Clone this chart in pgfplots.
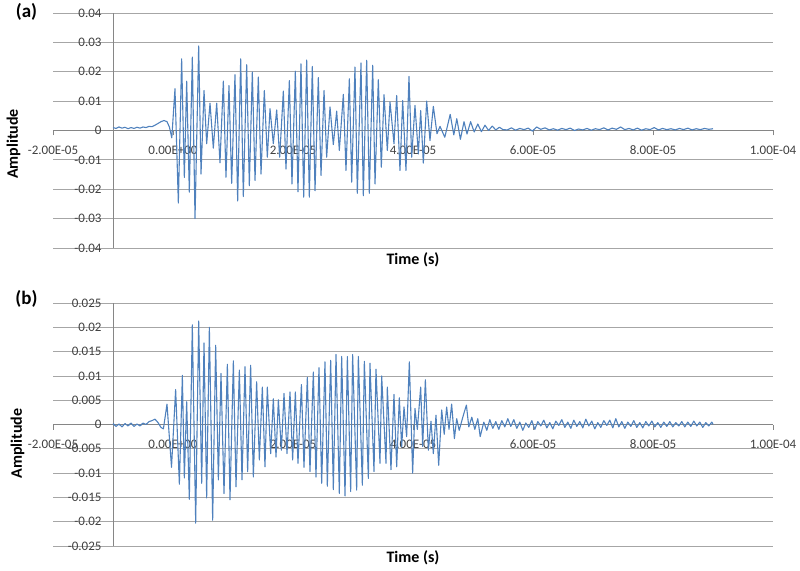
\documentclass[border=0pt]{standalone}
\usepackage{fontspec}
\setmainfont{Carlito}
\usepackage{pgfplots}
\pgfplotsset{compat=1.18}

\definecolor{sig}{HTML}{4F81BD}
\definecolor{gridc}{HTML}{A6A6A6}
\definecolor{axisc}{HTML}{868686}
\definecolor{labc}{HTML}{404040}

% x values in microseconds, labels written as in the original (seconds)
\pgfplotsset{excel/.style={
    scale only axis, width=720pt,
    xmin=-20, xmax=100,
    axis x line*=middle, axis y line*=left,
    hide obscured x ticks=false,
    y axis line style={draw=none},
    x axis line style={axisc, line width=0.75pt},
    xtick={-20,0,20,40,60,80,100},
    xticklabels={-2.00E-05,0.00E+00,2.00E-05,4.00E-05,6.00E-05,8.00E-05,1.00E-04},
    scaled y ticks=false,
    tick align=outside, major tick length=5pt,
    xtick style={axisc, line width=0.75pt},
    ytick style={draw=none},
    ymajorgrids, major grid style={gridc, line width=0.75pt},
    extra x ticks={-10}, extra x tick labels={},
    extra x tick style={grid=major, major grid style={axisc, line width=0.75pt}, major tick length=0pt},
    ticklabel style={font=\fontsize{13}{15}\selectfont, text=labc},
    xticklabel style={yshift=-7pt},
    yticklabel style={anchor=east, xshift=57pt},
    label style={font=\bfseries\fontsize{16}{19}\selectfont},
    xlabel={Time (s)},
    xlabel style={at={(axis description cs:0.5,0)}, anchor=center, yshift=-12pt},
    ylabel={Amplitude},
    cycle list={{sig, no markers}},
    every axis plot/.append style={line width=1.1pt, line join=round},
}}

\begin{document}
\begin{tikzpicture}
\path[use as bounding box] (0,0) rectangle (800pt,570pt);

\node[font=\bfseries\fontsize{19}{22}\selectfont] at (26.5pt,558pt) {(a)};
\node[font=\bfseries\fontsize{19}{22}\selectfont] at (26.5pt,271.5pt) {(b)};

% (a)
\begin{axis}[excel,
    at={(53pt,322pt)}, anchor=south west, height=235pt,
    ymin=-0.04, ymax=0.04,
    ytick={-0.04,-0.03,-0.02,-0.01,0,0.01,0.02,0.03,0.04},
    yticklabels={-0.04,-0.03,-0.02,-0.01,0,0.01,0.02,0.03,0.04},
    ylabel style={at={(axis description cs:-0.0549,0.4426)}, anchor=center},
]
\addplot coordinates {
(-10.0,0.0010) (-9.5,0.0007) (-9.0,0.0012) (-8.5,0.0008) (-8.0,0.0011) (-7.5,0.0006)
(-7.0,0.0010) (-6.5,0.0007) (-6.0,0.0011) (-5.5,0.0008) (-5.0,0.0012) (-4.5,0.0010)
(-4.0,0.0014) (-3.5,0.0013) (-3.0,0.0018) (-2.5,0.0024) (-2.0,0.0030) (-1.5,0.0034)
(-1.0,0.0030) (-0.6,0.0012) (-0.2,-0.0025)
(0.33,0.0142) (0.89,-0.0247) (1.44,0.0244) (1.89,-0.0160) (2.28,0.0168) (2.72,-0.0210)
(3.22,0.0250) (3.67,-0.0300) (4.28,0.0288) (4.67,-0.0148) (5.17,0.0136) (5.61,-0.0045)
(6.17,0.0093) (6.72,-0.0060) (7.28,0.0093) (7.83,-0.0110) (8.39,0.0168) (8.83,-0.0159)
(9.33,0.0153) (9.78,-0.0180) (10.33,0.0190) (10.78,-0.0240) (11.28,0.0244) (11.72,-0.0225)
(12.28,0.0224) (12.72,-0.0188) (13.22,0.0199) (13.67,-0.0170) (14.22,0.0182) (14.67,-0.0148)
(15.22,0.0136) (15.72,-0.0091) (16.17,0.0074) (16.72,-0.0045) (17.28,0.0070) (17.78,-0.0091)
(18.39,0.0134) (18.83,-0.0131) (19.39,0.0170) (19.83,-0.0182) (20.39,0.0202) (20.83,-0.0209)
(21.33,0.0227) (21.78,-0.0227) (22.28,0.0240) (22.72,-0.0227) (23.22,0.0218) (23.67,-0.0205)
(24.22,0.0180) (24.67,-0.0153) (25.17,0.0136) (25.61,-0.0091) (26.17,0.0080) (26.72,-0.0048)
(27.28,0.0066) (27.72,-0.0068) (28.39,0.0123) (28.83,-0.0136) (29.39,0.0176) (29.78,-0.0176)
(30.33,0.0216) (30.72,-0.0214) (31.33,0.0230) (31.72,-0.0222) (32.28,0.0239) (32.72,-0.0214)
(33.28,0.0222) (33.67,-0.0182) (34.22,0.0173) (34.72,-0.0125) (35.17,0.0122) (35.72,-0.0068)
(36.17,0.0097) (36.83,-0.0045) (37.28,0.0119) (37.83,-0.0136) (38.28,0.0102) (38.83,-0.0136)
(39.33,0.0184) (39.78,-0.0091) (40.33,0.0085) (40.89,-0.0080) (41.28,0.0068) (41.72,-0.0111)
(42.28,0.0100) (42.83,-0.0034) (43.39,0.0082) (44.0,-0.0011) (44.5,0.0014) (45.3,-0.0023)
(46.2,0.0055) (46.8,-0.0015) (47.3,0.0040) (47.9,-0.0030) (48.5,0.0030) (49.0,-0.0012)
(49.6,0.0030) (50.2,-0.0005) (50.8,0.0022) (51.4,-0.0004) (52.0,0.0018) (52.6,0.0000)
(53.2,0.0015) (53.8,0.0002) (54.4,0.0011) (55.0,0.0003)
(55.7,0.0002) (56.4,0.0009) (57.1,0.0001) (57.8,0.0007) (58.5,0.0003) (59.2,0.0008)
(59.9,-0.0002) (60.6,0.0012) (61.3,0.0004) (62.0,0.0009) (62.7,0.0002) (63.4,0.0006)
(64.1,0.0001) (64.8,0.0007) (65.5,0.0003) (66.2,0.0008) (66.9,0.0000) (67.6,0.0005)
(68.3,0.0002) (69.0,0.0007) (69.7,0.0001) (70.4,0.0006) (71.1,0.0003) (71.8,0.0009)
(72.5,0.0002) (73.2,0.0008) (73.9,0.0004) (74.6,0.0012) (75.3,0.0003) (76.0,0.0007)
(76.7,0.0002) (77.4,0.0008) (78.1,0.0001) (78.8,0.0006) (79.5,0.0003) (80.2,0.0010)
(80.9,0.0002) (81.6,0.0007) (82.3,0.0003) (83.0,0.0006) (83.7,0.0002) (84.4,0.0007)
(85.1,0.0003) (85.8,0.0008) (86.5,0.0002) (87.2,0.0006) (87.9,0.0003) (88.6,0.0007)
(89.3,0.0004) (90.0,0.0006)
};
\end{axis}

% (b)
\begin{axis}[excel,
    at={(53pt,24pt)}, anchor=south west, height=243pt,
    ymin=-0.025, ymax=0.025,
    ytick={-0.025,-0.02,-0.015,-0.01,-0.005,0,0.005,0.01,0.015,0.02,0.025},
    yticklabels={-0.025,-0.02,-0.015,-0.01,-0.005,0,0.005,0.01,0.015,0.02,0.025},
    ylabel style={at={(axis description cs:-0.0493,0.4218)}, anchor=center},
]
\addplot coordinates {
(-10.0,0.0002) (-9.5,-0.0004) (-9.0,0.0001) (-8.5,-0.0005) (-8.0,0.0002) (-7.5,-0.0003)
(-7.0,0.0003) (-6.5,-0.0004) (-6.0,0.0001) (-5.5,-0.0003) (-5.0,0.0003) (-4.5,0.0000)
(-4.0,0.0006) (-3.5,0.0008) (-3.0,0.0011) (-2.5,0.0004) (-2.0,-0.0006) (-1.6,-0.0009)
(-1.0,0.0042) (-0.25,-0.0088)
(0.44,0.0072) (1.06,-0.0123) (1.56,0.0101) (1.89,-0.0110) (2.28,0.0047) (2.72,-0.0154)
(3.22,0.0205) (3.78,-0.0203) (4.28,0.0213) (4.78,-0.0121) (5.17,0.0168) (5.61,-0.0151)
(6.06,0.0200) (6.61,-0.0197) (7.11,0.0163) (7.56,-0.0114) (8.0,0.0105) (8.5,-0.0142)
(9.06,0.0124) (9.5,-0.0155) (10.06,0.0131) (10.5,-0.0128) (11.06,0.0112) (11.5,-0.0114)
(12.0,0.0119) (12.44,-0.0097) (12.94,0.0122) (13.39,-0.0108) (13.94,0.0088) (14.39,-0.0073)
(14.89,0.0077) (15.33,-0.0087) (15.72,0.0077) (16.28,-0.0060) (16.72,0.0053) (17.17,-0.0067)
(17.56,0.0051) (18.06,-0.0053) (18.5,0.0064) (19.0,-0.0060) (19.5,0.0067) (19.94,-0.0073)
(20.39,0.0067) (20.83,-0.0080) (21.40,0.0082) (21.83,-0.0088) (22.39,0.0097) (22.83,-0.0097)
(23.39,0.0108) (23.83,-0.0108) (24.33,0.0117) (24.78,-0.0121) (25.33,0.0129) (25.72,-0.0127)
(26.28,0.0132) (26.72,-0.0134) (27.17,0.0144) (27.72,-0.0142) (28.11,0.0140) (28.67,-0.0147)
(29.06,0.0140) (29.61,-0.0138) (29.94,0.0144) (30.61,-0.0135) (30.89,0.0140) (31.56,-0.0125)
(31.89,0.0130) (32.56,-0.0111) (32.83,0.0126) (33.5,-0.0097) (33.83,0.0114) (34.5,-0.0080)
(34.78,0.0100) (35.5,-0.0080) (35.72,0.0077) (36.33,-0.0093) (36.83,0.0062) (37.28,-0.0087)
(37.72,0.0055) (38.11,-0.0046) (38.5,0.0036) (38.94,-0.0025) (39.39,0.0129) (39.94,-0.0100)
(40.33,0.0033) (40.72,-0.0010) (41.28,0.0077) (41.61,-0.0045) (42.06,0.0092) (42.56,-0.0053)
(43.0,0.0007) (43.39,-0.0060) (43.83,0.0019) (44.28,-0.0084) (44.78,0.0030) (45.2,-0.0020)
(45.61,0.0036) (46.0,-0.0010) (46.44,0.0042) (46.9,-0.0029) (47.28,0.0012) (47.7,-0.0012)
(48.39,0.0019) (48.9,0.0040) (49.3,-0.0005) (49.8,0.0015) (50.3,-0.0010) (50.8,0.0012)
(51.2,-0.0025) (51.8,0.0005) (52.3,-0.0012) (52.8,0.0010) (53.3,-0.0008) (53.8,0.0006)
(54.3,-0.0010) (54.8,0.0008) (55.3,-0.0005) (55.8,0.0012)
(56.3,-0.0004) (56.8,0.0010) (57.3,-0.0008) (57.8,0.0005) (58.3,-0.0012) (58.8,0.0003)
(59.3,-0.0006) (59.8,0.0008) (60.3,-0.0010) (60.8,0.0006) (61.3,-0.0003) (61.8,0.0009)
(62.3,-0.0007) (62.8,0.0004) (63.3,-0.0009) (63.8,0.0007) (64.3,-0.0002) (64.8,0.0010)
(65.3,-0.0006) (65.8,0.0005) (66.3,-0.0008) (66.8,0.0009) (67.3,-0.0004) (67.8,0.0006)
(68.3,-0.0007) (68.8,0.0011) (69.3,-0.0003) (69.8,0.0007) (70.3,-0.0009) (70.8,0.0004)
(71.3,-0.0006) (71.8,0.0008) (72.3,-0.0002) (72.8,0.0009) (73.3,-0.0007) (73.8,0.0012)
(74.3,-0.0005) (74.8,0.0006) (75.3,-0.0008) (75.8,0.0005) (76.3,-0.0004) (76.8,0.0008)
(77.3,-0.0006) (77.8,0.0004) (78.3,-0.0007) (78.8,0.0006) (79.3,-0.0003) (79.8,0.0007)
(80.3,-0.0005) (80.8,0.0004) (81.3,-0.0006) (81.8,0.0005) (82.3,-0.0004) (82.8,0.0006)
(83.3,-0.0005) (83.8,0.0004) (84.3,-0.0003) (84.8,0.0006) (85.3,-0.0005) (85.8,0.0005)
(86.3,-0.0004) (86.8,0.0007) (87.3,-0.0003) (87.8,0.0005) (88.3,-0.0006) (88.8,0.0004)
(89.3,-0.0003) (89.8,0.0005) (90.0,0.0000)
};
\end{axis}
\end{tikzpicture}
\end{document}
